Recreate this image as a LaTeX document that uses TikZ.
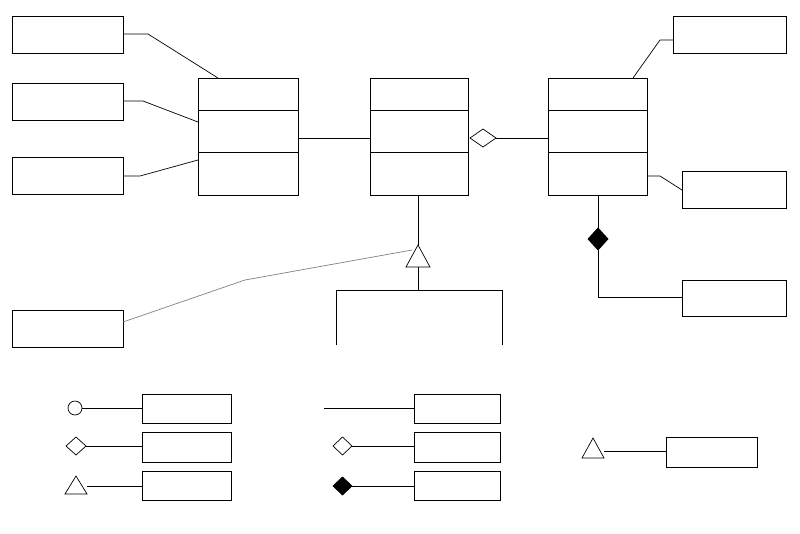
\documentclass[tikz,border=0pt]{standalone}
\begin{document}
\begin{tikzpicture}[x=1pt,y=-1pt,line width=0.7pt,
 bx/.style={draw,minimum width=0pt,inner sep=0pt},
 hd/.style={draw,fill=white},
 fd/.style={draw,fill=black}]
\useasboundingbox (0,0) rectangle (800,533);
% boxes
\foreach \n/\a/\b/\c/\d in {b1/12/16/123/53,b2/12/83/123/120,b3/12/157/123/194,b4/12/310/123/347,
 r1/673/16/786/53,r2/682/171/786/208,r3/682/280/786/316,
 l1/142/394/231/423,l2/142/432/231/462,l3/142/471/231/500,
 m1/414/394/500/423,m2/414/432/500/462,m3/414/471/500/500,n1/666/437/757/467}
 {\draw (\a,\b) rectangle (\c,\d); \coordinate (\n) at (\a,{(\b+\d)/2});}
% classes
\foreach \n/\a/\c in {c1/198/298,c2/370/468,c3/548/647}{
 \draw (\a,78) rectangle (\c,195); \draw (\a,110)--(\c,110); \draw (\a,152)--(\c,152);}
% connectors
\draw (123,34)--(148,34)--(218,78);
\draw (123,101)--(143,101)--(198,122);
\draw (123,176)--(140,176)--(198,160);
\draw (298,138)--(370,138);
\draw (496,138)--(548,138);
\draw[hd] (470,138)--(483,129)--(496,138)--(483,147)--cycle;
\draw (633,78)--(660,40)--(673,40);
\draw (647,176)--(660,176)--(682,190);
\draw (598,195)--(598,228);
\draw[fd] (598,228)--(608,239)--(598,250)--(588,239)--cycle;
\draw (598,250)--(598,297)--(682,297);
\draw (418,195)--(418,245);
\draw[gray] (123,322)--(245,280)--(412,250);
\draw[hd] (418,245)--(430,267)--(406,267)--cycle;
\draw (418,267)--(418,290);
\draw (336,345)--(336,290)--(502,290)--(502,345);
% legend
\draw (82,408)--(142,408); \draw[hd] (75,408) circle (7);
\draw (86,446)--(142,446); \draw[hd] (66,446)--(76,437)--(86,446)--(76,455)--cycle;
\draw (87,486)--(142,486); \draw[hd] (76,476)--(87,494)--(65,494)--cycle;
\draw (324,408)--(414,408);
\draw (352,446)--(414,446); \draw[hd] (333,446)--(342.5,437)--(352,446)--(342.5,455)--cycle;
\draw (352,486)--(414,486); \draw[fd] (333,486)--(342.5,477)--(352,486)--(342.5,495)--cycle;
\draw (604,451)--(666,451); \draw[hd] (593,438)--(604,458)--(582,458)--cycle;
\end{tikzpicture}
\end{document}
